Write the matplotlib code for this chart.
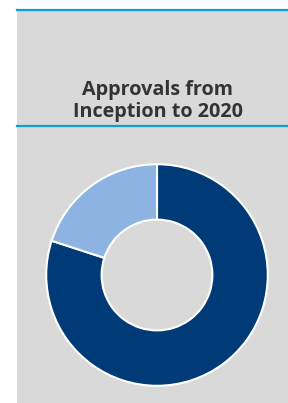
import numpy as np
import matplotlib.pyplot as plt
from matplotlib.patches import Rectangle
from matplotlib.lines import Line2D

# datos del grafico
labels = ["Approved A", "Approved B"]
shares = [80, 20]
colors = ["#003B77", "#8DB3E2"]
title = "Approvals from\nInception to 2020"

W, H = 288, 403
fig = plt.figure(figsize=(W / 100, H / 100), dpi=100)
fig.patch.set_facecolor("white")

# panel gris de fondo
fig.add_artist(Rectangle((17 / W, 0), 1 - 17 / W, 1 - 10 / H,
                         transform=fig.transFigure, facecolor="#D9D9D9",
                         edgecolor="none", zorder=0))
# lineas azules
for y in (10, 126):
    fig.add_artist(Line2D([17 / W, 1], [1 - y / H, 1 - y / H],
                          transform=fig.transFigure, color="#0A9FDB", lw=1.6))

fig.text(158 / W, 1 - 101 / H, title, ha="center", va="center",
         fontsize=14.2, fontweight="bold", color="#333333",
         family="Open Sans", linespacing=1.1)

# donut
r = 111
cx, cy = 157, 275
ax = fig.add_axes([(cx - r - 2) / W, 1 - (cy + r + 2) / H, (2 * r + 4) / W, (2 * r + 4) / H])
ax.set_facecolor("none")
ax.pie(shares, colors=colors, startangle=90, counterclock=False,
       wedgeprops=dict(width=0.5, edgecolor="white", linewidth=1.5),
       radius=1.0)
ax.set_xlim(-1.02, 1.02)
ax.set_ylim(-1.02, 1.02)
ax.set_aspect("equal")
ax.axis("off")

fig.savefig("out.png", dpi=100)
